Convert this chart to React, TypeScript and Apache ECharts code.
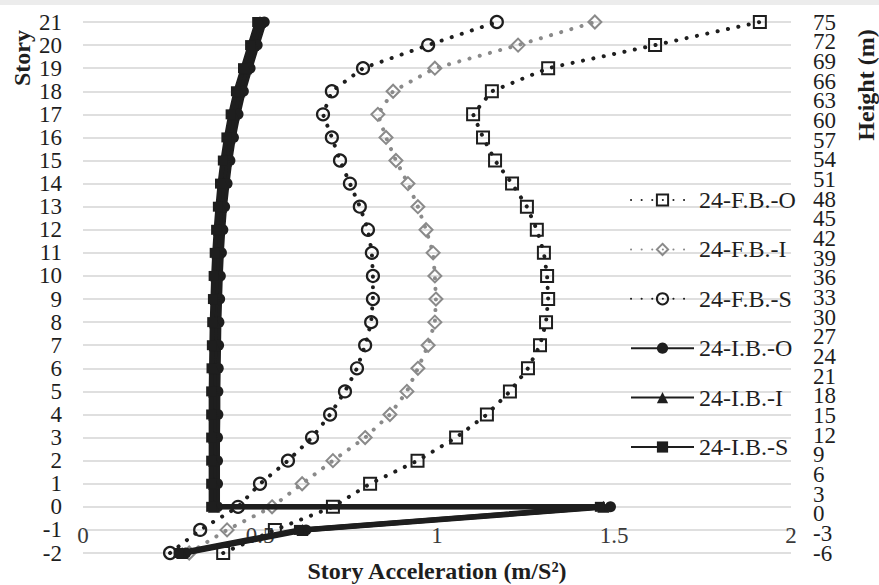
import React, { useEffect, useRef } from "react";
import * as echarts from "echarts";

// Story levels for the fixed-base models (bottom to top)
const fbStories = [-2, -1, 0, 1, 2, 3, 4, 5, 6, 7, 8, 9, 10, 11, 12, 13, 14, 15, 16, 17, 18, 19, 20, 21];
const fbO = [0.396, 0.542, 0.706, 0.811, 0.945, 1.054, 1.141, 1.206, 1.257, 1.291, 1.308, 1.314, 1.311, 1.302, 1.282, 1.254, 1.212, 1.164, 1.13, 1.102, 1.155, 1.314, 1.616, 1.912];
const fbI = [0.3, 0.407, 0.534, 0.619, 0.706, 0.797, 0.867, 0.915, 0.946, 0.975, 0.994, 0.997, 0.994, 0.989, 0.969, 0.946, 0.918, 0.884, 0.856, 0.833, 0.876, 0.994, 1.229, 1.446];
const fbS = [0.246, 0.331, 0.438, 0.5, 0.579, 0.647, 0.698, 0.74, 0.774, 0.797, 0.814, 0.819, 0.819, 0.816, 0.805, 0.782, 0.754, 0.726, 0.703, 0.678, 0.703, 0.791, 0.975, 1.169];

// Isolated models: level 0 appears twice (below and above the isolation layer)
const ibStories = [-2, -1, 0, 0, 1, 2, 3, 4, 5, 6, 7, 8, 9, 10, 11, 12, 13, 14, 15, 16, 17, 18, 19, 20, 21];
const ibO = [0.29, 0.63, 1.49, 0.38, 0.38, 0.38, 0.38, 0.381, 0.381, 0.382, 0.383, 0.384, 0.386, 0.388, 0.391, 0.395, 0.4, 0.407, 0.415, 0.425, 0.438, 0.453, 0.472, 0.492, 0.512];
const ibI = [0.28, 0.62, 1.47, 0.37, 0.37, 0.37, 0.37, 0.37, 0.37, 0.371, 0.372, 0.373, 0.375, 0.377, 0.38, 0.384, 0.39, 0.396, 0.404, 0.414, 0.426, 0.442, 0.461, 0.481, 0.5];
const ibS = [0.27, 0.61, 1.46, 0.362, 0.362, 0.362, 0.362, 0.362, 0.362, 0.363, 0.364, 0.365, 0.367, 0.369, 0.372, 0.376, 0.381, 0.387, 0.395, 0.405, 0.417, 0.432, 0.452, 0.472, 0.492];

const seriesNames = ["24-F.B.-O", "24-F.B.-I", "24-F.B.-S", "24-I.B.-O", "24-I.B.-I", "24-I.B.-S"];

// Axis ranges: story axis (left), height axis (right), acceleration axis (bottom)
const storyRange = [-2, 21];
const heightRange = [-6, 75];
const heightStep = 3;
const accRange = [0, 2];
const accStep = 0.5;

const SERIF = "Liberation Serif";
const INK = "#1e1e1e";
const GREY = "#8a8a8a";

const pairs = (xs: number[], ys: number[]) => xs.map((x, i) => [x, ys[i]]);

const dotted = (color: string) => ({
  color,
  width: 4,
  type: [0.1, 10.5] as number[],
  cap: "round" as const,
});

// The height labels are packed tightly; alternate them over two overlaid axes
// so neighbouring labels never get culled.
const heightAxis = (parity: number) => ({
  type: "value",
  min: heightRange[0],
  max: heightRange[1],
  interval: heightStep,
  position: "right",
  axisLine: { show: false },
  axisTick: { show: false },
  splitLine: { show: false },
  axisLabel: {
    margin: 22,
    showMinLabel: true,
    showMaxLabel: true,
    fontFamily: SERIF,
    fontSize: 23,
    color: INK,
    formatter: (v: number) =>
      Math.round((v - heightRange[0]) / heightStep) % 2 === parity ? String(v) : "",
  },
});

export default function App() {
  const ref = useRef<HTMLDivElement>(null);

  useEffect(() => {
    if (!ref.current) return;
    const chart = echarts.init(ref.current, undefined, { renderer: "svg" });

    const solid = { color: INK, width: 5, type: "solid" as const };

    chart.setOption({
      animation: false,
      backgroundColor: "#ffffff",
      grid: { left: 83, right: 88, top: 22, bottom: 32, containLabel: false },
      legend: {
        data: seriesNames,
        orient: "vertical",
        left: 630,
        top: 188,
        padding: 0,
        itemWidth: 63,
        itemHeight: 14,
        itemGap: 25.4,
        textStyle: { fontFamily: SERIF, fontSize: 24, color: INK, lineHeight: 24 },
      },
      xAxis: {
        type: "value",
        min: accRange[0],
        max: accRange[1],
        interval: accStep,
        position: "bottom",
        offset: -18,
        axisLine: { show: false },
        axisTick: { show: false },
        splitLine: { show: false },
        axisLabel: {
          margin: 0,
          verticalAlign: "middle",
          showMinLabel: true,
          showMaxLabel: true,
          fontFamily: SERIF,
          fontSize: 23,
          color: "#3a3a3a",
          formatter: (v: number) => String(v),
        },
      },
      yAxis: [
        {
          type: "value",
          min: storyRange[0],
          max: storyRange[1],
          interval: 1,
          position: "left",
          axisLine: { show: false },
          axisTick: { show: false },
          axisLabel: { margin: 21, showMinLabel: true, showMaxLabel: true, fontFamily: SERIF, fontSize: 23, color: INK },
          splitLine: { show: true, lineStyle: { color: "#d4d4d4", width: 1.5 } },
        },
        heightAxis(0),
        heightAxis(1),
      ],
      graphic: [
        { type: "rect", left: 0, top: 0, shape: { width: 879, height: 5 }, style: { fill: "#ececec" } },
        {
          type: "text",
          x: 22,
          y: 58,
          rotation: Math.PI / 2,
          style: {
            text: "Story",
            fontFamily: SERIF,
            fontWeight: "bold",
            fontSize: 24,
            fill: INK,
            align: "center",
            verticalAlign: "middle",
          },
        },
        {
          type: "text",
          x: 866,
          y: 85,
          rotation: Math.PI / 2,
          style: {
            text: "Height (m)",
            fontFamily: SERIF,
            fontWeight: "bold",
            fontSize: 24,
            fill: INK,
            align: "center",
            verticalAlign: "middle",
          },
        },
        {
          type: "text",
          x: 437,
          y: 571,
          style: {
            text: "Story Acceleration (m/S²)",
            fontFamily: SERIF,
            fontWeight: "bold",
            fontSize: 24,
            fill: INK,
            align: "center",
            verticalAlign: "middle",
          },
        },
      ],
      series: [
        {
          name: seriesNames[0],
          type: "line",
          data: pairs(fbO, fbStories),
          symbol: "rect",
          symbolSize: 12,
          itemStyle: { color: "rgba(255,255,255,0)", borderColor: INK, borderWidth: 2 },
          lineStyle: dotted(INK),
          z: 3,
        },
        {
          name: seriesNames[1],
          type: "line",
          data: pairs(fbI, fbStories),
          symbol: "diamond",
          symbolSize: 13,
          itemStyle: { color: "rgba(255,255,255,0)", borderColor: GREY, borderWidth: 2 },
          lineStyle: dotted(GREY),
          z: 3,
        },
        {
          name: seriesNames[2],
          type: "line",
          data: pairs(fbS, fbStories),
          symbol: "circle",
          symbolSize: 12,
          itemStyle: { color: "rgba(255,255,255,0)", borderColor: INK, borderWidth: 2.2 },
          lineStyle: dotted(INK),
          z: 3,
        },
        {
          name: seriesNames[3],
          type: "line",
          data: pairs(ibO, ibStories),
          symbol: "circle",
          symbolSize: 11,
          itemStyle: { color: INK },
          lineStyle: solid,
          z: 4,
        },
        {
          name: seriesNames[4],
          type: "line",
          data: pairs(ibI, ibStories),
          symbol: "triangle",
          symbolSize: 12,
          itemStyle: { color: INK },
          lineStyle: solid,
          z: 4,
        },
        {
          name: seriesNames[5],
          type: "line",
          data: pairs(ibS, ibStories),
          symbol: "rect",
          symbolSize: 10,
          itemStyle: { color: INK },
          lineStyle: solid,
          z: 4,
        },
      ],
    });

    return () => chart.dispose();
  }, []);

  return (
    <div
      ref={ref}
      style={{ position: "fixed", left: 0, top: 0, width: 879, height: 585, background: "#fff" }}
    />
  );
}
